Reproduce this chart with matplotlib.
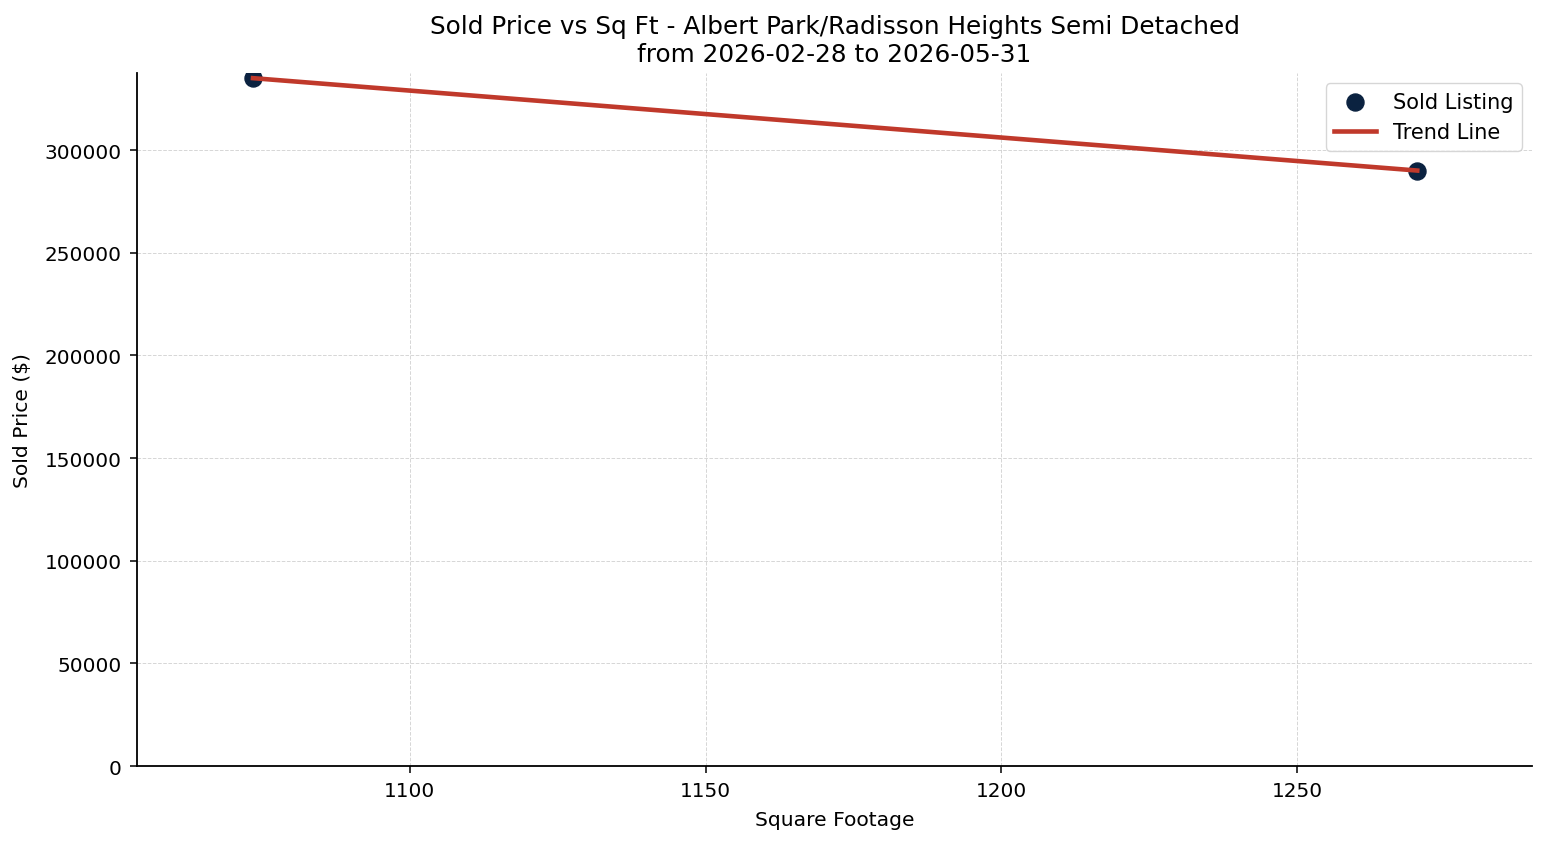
import matplotlib
matplotlib.use("Agg")
import matplotlib.pyplot as plt
import numpy as np

sqft = [1073.5, 1270.3]
price = [335000, 290000]

fig, ax = plt.subplots(figsize=(15.47, 8.45), dpi=100)

ax.scatter(sqft, price, color='#0b2240', s=150, zorder=3, label='Sold Listing')

# linear trend
m, b = np.polyfit(sqft, price, 1)
xs = np.array([min(sqft), max(sqft)])
ax.plot(xs, m * xs + b, color='#c0392b', linewidth=3.3, zorder=4, label='Trend Line')

ax.set_xlim(min(sqft) - 19.6, max(sqft) + 19.4)
ax.set_ylim(0, 337500)
ax.set_xticks([1100, 1150, 1200, 1250])

ax.set_title("Sold Price vs Sq Ft - Albert Park/Radisson Heights Semi Detached\nfrom 2026-02-28 to 2026-05-31",
             fontsize=17.8, pad=8.5)
ax.set_xlabel("Square Footage", fontsize=14.6, labelpad=7)
ax.set_ylabel("Sold Price ($)", fontsize=14.6, labelpad=9)
ax.tick_params(labelsize=14.4, length=5, width=1.1, pad=6)
ax.grid(True, linestyle='--', color='#cccccc', alpha=0.8, linewidth=0.7)
ax.spines['top'].set_visible(False)
ax.spines['right'].set_visible(False)
ax.spines['left'].set_linewidth(1.3)
ax.spines['bottom'].set_linewidth(1.3)
ax.legend(loc='upper right', fontsize=15)

fig.subplots_adjust(left=0.0886, right=0.9903, top=0.9124, bottom=0.0923)
fig.savefig("out.png", dpi=100)
